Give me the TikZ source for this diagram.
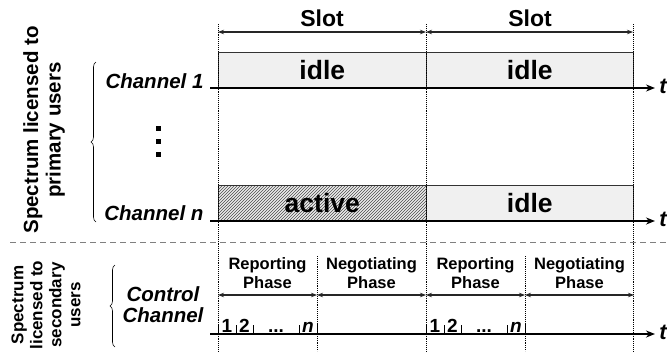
\documentclass[tikz,border=0pt]{standalone}
\usepackage{fontspec}
\setmainfont{Liberation Sans}
\usetikzlibrary{arrows.meta,patterns,decorations.pathreplacing}

\begin{document}
\begin{tikzpicture}[x=1pt,y=-1pt,
  guide/.style={densely dotted, line width=0.9pt},
  timeaxis/.style={line width=1.7pt, -{Stealth[length=9pt,width=7pt]}},
  span/.style={line width=1.2pt, black!85, {Stealth[length=6pt,width=4.5pt]}-{Stealth[length=6pt,width=4.5pt]}},
  chbox/.style={draw=black!80, line width=0.6pt, fill=gray!12, inner sep=0pt},
  busybox/.style={chbox, preaction={fill=gray!15}, pattern=north east lines, pattern color=black!70},
  brace/.style={decorate, decoration={brace, amplitude=5pt}, line width=0.6pt},
  slotlbl/.style={font=\bfseries\fontsize{23}{26}\selectfont},
  statelbl/.style={font=\bfseries\fontsize{26.5}{29}\selectfont},
  phaselbl/.style={font=\bfseries\fontsize{16.5}{19}\selectfont, align=center},
  chanlbl/.style={font=\bfseries\itshape\fontsize{20.5}{21}\selectfont},
  primlbl/.style={font=\bfseries\fontsize{20.5}{22.5}\selectfont, align=center, rotate=90},
  seclbl/.style={font=\bfseries\fontsize{17}{19}\selectfont, align=center, rotate=90},
  numlbl/.style={font=\bfseries\fontsize{19}{20}\selectfont, anchor=base, inner sep=0pt},
  tlbl/.style={font=\bfseries\itshape\fontsize{22}{24}\selectfont}
]
\useasboundingbox (0,0) rectangle (667,351);

% slot borders
\foreach \n/\x in {0/218,1/426,2/633}{
  \coordinate (top\n) at (\x,24);
  \coordinate (bot\n) at (\x,351);
}

% channel boxes
\node[chbox, anchor=south west, minimum width=208pt, minimum height=35pt, statelbl] (idle1a) at (218,88) {idle};
\node[chbox, anchor=south west, minimum width=207pt, minimum height=35pt, statelbl] (idle1b) at (426,88) {idle};
\node[busybox, anchor=south west, minimum width=208pt, minimum height=35pt, statelbl] (activena) at (218,221) {active};
\node[chbox, anchor=south west, minimum width=207pt, minimum height=35pt, statelbl] (idlenb) at (426,221) {idle};

\foreach \n in {0,1,2}
  \draw[guide] (top\n) -- (bot\n);

% slots
\coordinate (sl0) at (218,32);
\coordinate (sl1) at (426,32);
\coordinate (sl2) at (633,32);
\draw[span] (sl0) -- (sl1);
\draw[span] (sl1) -- (sl2);
\node[slotlbl] (slotA) at (322,18) {Slot};
\node[slotlbl] (slotB) at (530,18) {Slot};

% time axes
\coordinate (ax1s) at (210,88);
\coordinate (ax1e) at (655,88);
\coordinate (axns) at (210,221);
\coordinate (axne) at (655,221);
\coordinate (axcs) at (210,334);
\coordinate (axce) at (655,334);
\draw[timeaxis] (ax1s) -- (ax1e);
\draw[timeaxis] (axns) -- (axne);
\draw[timeaxis] (axcs) -- (axce);
\node[tlbl] (t1) at (663,86) {t};
\node[tlbl] (tn) at (663,219) {t};
\node[tlbl] (tc) at (663,332) {t};

% channel names
\node[chanlbl, anchor=east] (ch1) at (207,81) {Channel 1};
\node[chanlbl, anchor=east] (chn) at (207,213) {Channel n};
\node[chanlbl, align=center] (ctrl) at (163,305) {Control\\Channel};
\foreach \y in {128,141,154}
  \fill (155.5,\y-2.5) rectangle ++(5,5);

% spectrum groups
\coordinate (br1a) at (96,222);
\coordinate (br1b) at (96,62);
\draw[brace] (br1a) -- (br1b);
\node[primlbl] (prim) at (44,130) {Spectrum licensed to\\primary users};
\coordinate (br2a) at (115,347);
\coordinate (br2b) at (115,265);
\draw[brace] (br2a) -- (br2b);
\node[seclbl] (sec) at (46,305) {Spectrum\\licensed to\\secondary\\users};

\coordinate (sepL) at (10,242);
\coordinate (sepR) at (667,242);
\draw[gray, line width=1pt, dash pattern=on 6pt off 4pt] (sepL) -- (sepR);

% phases
\foreach \g/\x in {a/218,b/426}{
  \coordinate (ph\g0) at (\x,295);
  \coordinate (ph\g1) at (\x+99,295);
  \coordinate (ph\g2) at (\x+208,295);
  \coordinate (dv\g) at (\x+99,256);
  \coordinate (dvb\g) at (\x+99,351);
  \draw[guide] (dv\g) -- (dvb\g);
  \draw[span] (ph\g0) -- (ph\g1);
  \draw[span] (ph\g1) -- (ph\g2);
  \node[phaselbl] (rep\g) at (\x+49.5,273) {Reporting\\Phase};
  \node[phaselbl] (neg\g) at (\x+153.5,273) {Negotiating\\Phase};
  \foreach \d in {0,18,35,81,99}
    \draw[line width=0.8pt] (\x+\d,325) -- (\x+\d,334);
  \node[numlbl] (one\g) at (\x+9,332) {1};
  \node[numlbl] (two\g) at (\x+26.5,332) {2};
  \node[numlbl] (dots\g) at (\x+58,332) {...};
  \node[numlbl, font=\bfseries\itshape\fontsize{19}{20}\selectfont] (last\g) at (\x+90,332) {n};
}
\end{tikzpicture}
\end{document}
